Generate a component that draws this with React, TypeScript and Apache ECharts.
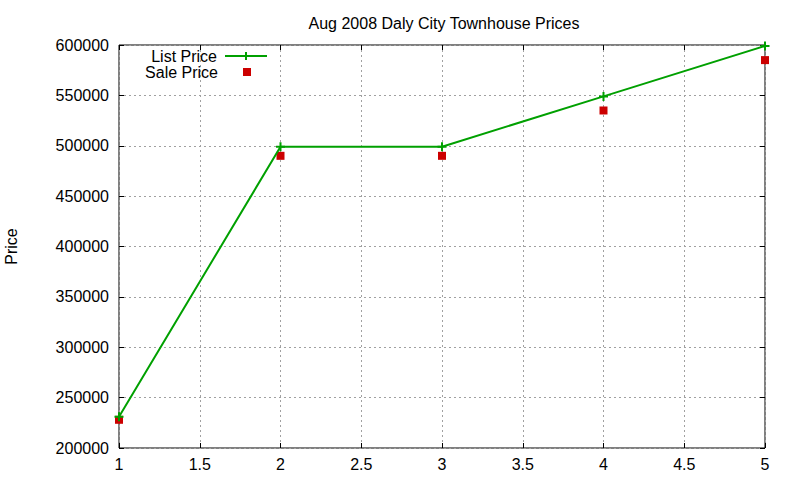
import React, { useEffect, useRef } from "react";
import * as echarts from "echarts";

const xValues = [1, 2, 3, 4, 5];
const listPrices = [231000, 499000, 499000, 549000, 599000];
const salePrices = [228000, 490000, 490000, 535000, 585000];
const titleText = "Aug 2008 Daly City Townhouse Prices";
const yName = "Price";

const FONT = "Liberation Sans, Arial, sans-serif";
const GREEN = "#00a000";
const RED = "#cc0000";
const PLUS = "path://M0,5 L10,5 M5,0 L5,10";
const SQUARE = "path://M0,0 L10,0 L10,10 L0,10 Z";

export default function App() {
  const ref = useRef<HTMLDivElement>(null);
  useEffect(() => {
    if (!ref.current) return;
    const chart = echarts.init(ref.current, undefined, { renderer: "svg" });
    const grid = {
      left: 119,
      right: 35,
      top: 45,
      bottom: 32,
      show: true,
      borderColor: "#000",
      borderWidth: 1,
      backgroundColor: "transparent",
      containLabel: false,
      outerBoundsMode: "none",
    };
    const xBase = {
      type: "value" as const,
      min: 1,
      max: 5,
      interval: 0.5,
      axisLine: { show: false },
      axisTick: { show: true, inside: true, length: 5, lineStyle: { color: "#000" } },
    };
    const yBase = {
      type: "value" as const,
      min: 200000,
      max: 600000,
      interval: 50000,
      axisLine: { show: false },
      axisTick: { show: true, inside: true, length: 5, lineStyle: { color: "#000" } },
    };
    chart.setOption({
      animation: false,
      backgroundColor: "#fff",
      textStyle: { fontFamily: FONT },
      title: {
        text: titleText,
        left: 439,
        top: 10,
        textAlign: "center",
        textStyle: { fontFamily: FONT, fontSize: 16, fontWeight: "normal", color: "#000" },
      },
      legend: [
        {
          data: [{ name: "List Price" }],
          right: 532,
          top: 48,
          orient: "vertical",
          align: "right",
          itemWidth: 42,
          itemHeight: 10,
          textStyle: { fontFamily: FONT, fontSize: 16, color: "#000", padding: [0, 3, 0, 0] },
          padding: 0,
        },
        {
          data: [{ name: "Sale Price", icon: SQUARE }],
          right: 549,
          top: 64,
          orient: "vertical",
          align: "right",
          itemWidth: 42,
          itemHeight: 8,
          textStyle: { fontFamily: FONT, fontSize: 16, color: "#000", padding: [0, 3, 0, 0] },
          padding: 0,
        },
      ],
      grid,
      xAxis: [
        {
          ...xBase,
          position: "bottom",
          axisLabel: { fontFamily: FONT, fontSize: 16, color: "#000", margin: 8 },
          splitLine: { show: true, lineStyle: { color: "#a0a0a0", type: [2, 3], width: 1 } },
        },
        {
          ...xBase,
          position: "top",
          axisLabel: { show: false },
          splitLine: { show: false },
        },
      ],
      yAxis: [
        {
          ...yBase,
          position: "left",
          name: yName,
          nameLocation: "middle",
          nameRotate: 90,
          nameGap: 100,
          nameTextStyle: { fontFamily: FONT, fontSize: 16, color: "#000" },
          axisLabel: {
            fontFamily: FONT,
            fontSize: 16,
            color: "#000",
            margin: 10,
            formatter: (v: number) => String(Math.round(v)),
          },
          splitLine: { show: true, lineStyle: { color: "#a0a0a0", type: [2, 3], width: 1 } },
        },
        {
          ...yBase,
          position: "right",
          axisLabel: { show: false },
          splitLine: { show: false },
        },
      ],
      series: [
        {
          name: "List Price",
          type: "line",
          data: xValues.map((x, i) => [x, listPrices[i]]),
          symbol: PLUS,
          symbolSize: 9,
          showSymbol: true,
          lineStyle: { color: GREEN, width: 2 },
          itemStyle: { color: GREEN, borderColor: GREEN, borderWidth: 2 },
          z: 3,
        },
        {
          name: "Sale Price",
          type: "scatter",
          data: xValues.map((x, i) => [x, salePrices[i]]),
          symbol: "rect",
          symbolSize: 8,
          itemStyle: { color: RED, opacity: 1 },
          z: 2,
        },
      ],
    });
    return () => chart.dispose();
  }, []);
  return <div ref={ref} style={{ width: 800, height: 480, position: "fixed", left: 0, top: 0 }} />;
}
